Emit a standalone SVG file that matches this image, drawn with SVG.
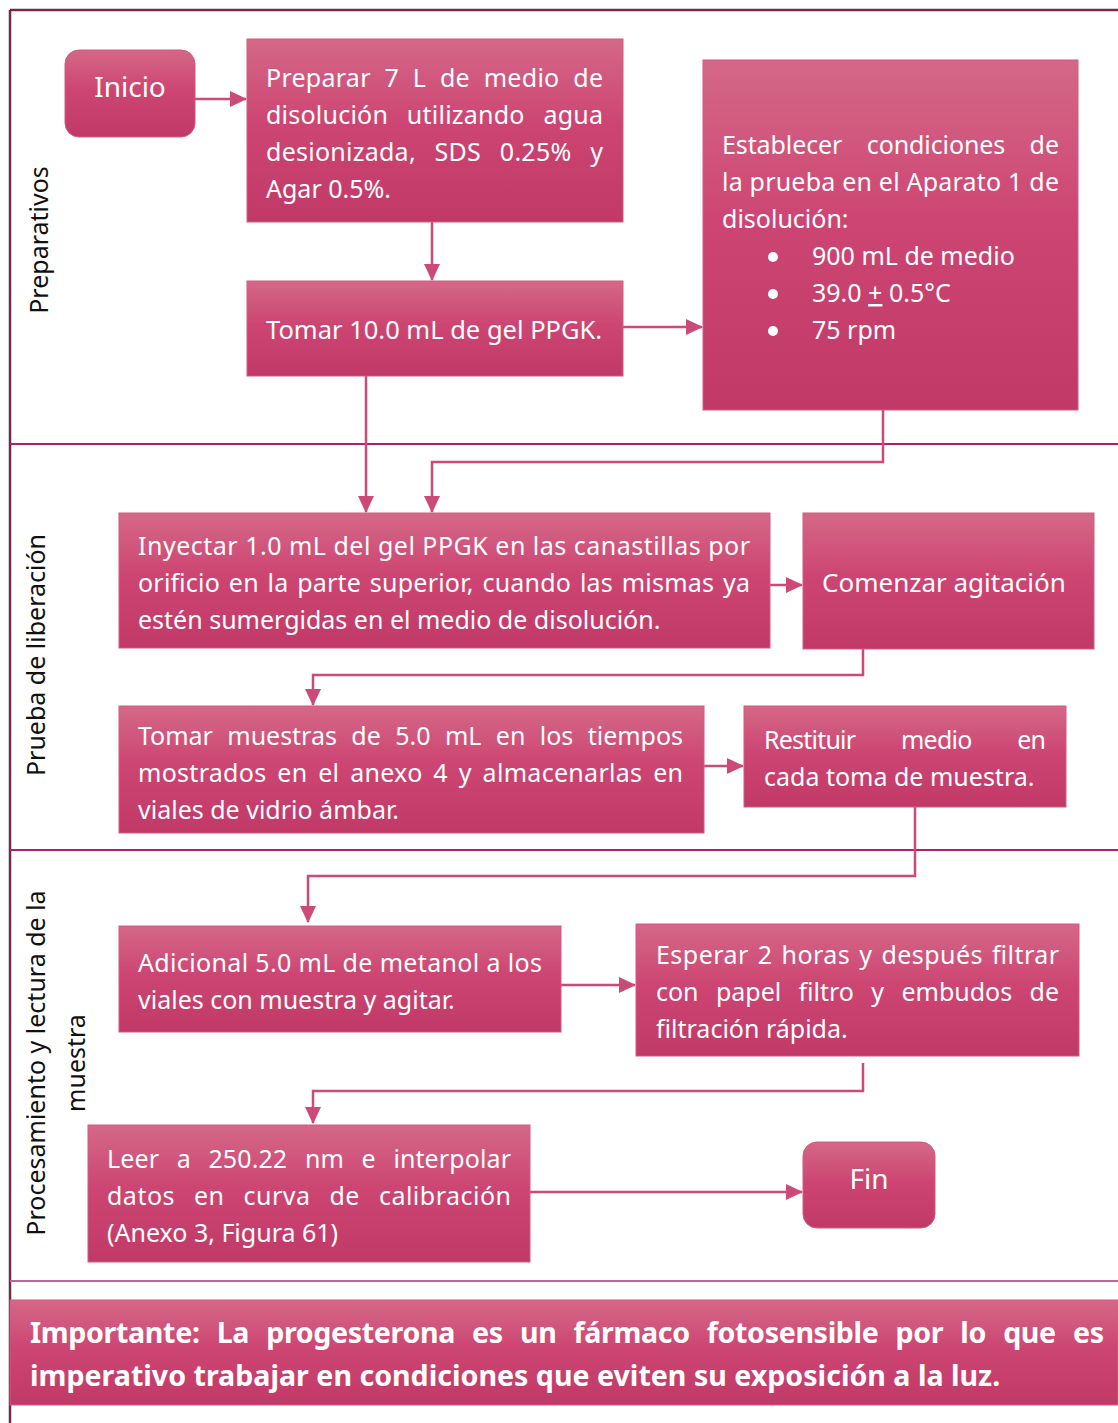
<svg xmlns="http://www.w3.org/2000/svg" width="1118" height="1423" viewBox="0 0 1118 1423">
  <defs>
    <linearGradient id="boxFill" x1="0" y1="0" x2="0" y2="1">
      <stop offset="0" stop-color="#d46888"/>
      <stop offset="0.45" stop-color="#cd4673"/>
      <stop offset="1" stop-color="#c13a67"/>
    </linearGradient>
    <marker id="arrow" markerUnits="userSpaceOnUse" markerWidth="18" markerHeight="16" refX="16" refY="8" orient="auto">
      <path d="M0,0 L17,8 L0,16 Z" fill="#cc4a78"/>
    </marker>
  </defs>
  <style>
    .box { fill: url(#boxFill); stroke: #d25a84; stroke-width: 1; }
    .txt { font-family: "Noto Sans", "Open Sans", sans-serif; font-size: 25px; fill: #ffffff; }
    .term { font-size: 28px; }
    .lbl { font-family: "Noto Sans", "Open Sans", sans-serif; font-size: 25px; fill: #111111; }
    .bold { font-family: "Noto Sans", "Open Sans", sans-serif; font-size: 28.6px; font-weight: bold; fill: #ffffff; }
    .conn { fill: none; stroke: #cc4a78; stroke-width: 2.5; marker-end: url(#arrow); }
    .frame { stroke: #72294a; stroke-width: 2.5; fill: none; }
    .sep { stroke: #a52472; stroke-width: 2; }
  </style>

  <rect width="1118" height="1423" fill="#ffffff"/>

  <!-- outer frame and section dividers -->
  <g id="frame">
    <line class="frame" x1="10" y1="10" x2="1118" y2="10"/>
    <line class="frame" x1="10" y1="10" x2="10" y2="1423"/>
    <line class="sep" x1="10" y1="444" x2="1118" y2="444"/>
    <line class="sep" x1="10" y1="850" x2="1118" y2="850"/>
    <line class="sep" x1="10" y1="1281" x2="1118" y2="1281" style="stroke:#b9689a"/>
  </g>

  <!-- section labels -->
  <g id="section-labels">
    <text class="lbl" text-anchor="middle" transform="translate(48,240) rotate(-90)">Preparativos</text>
    <text class="lbl" text-anchor="middle" transform="translate(45,655) rotate(-90)">Prueba de liberación</text>
    <text class="lbl" text-anchor="middle" transform="translate(45,1063) rotate(-90)">Procesamiento y lectura de la</text>
    <text class="lbl" text-anchor="middle" transform="translate(85,1063) rotate(-90)">muestra</text>
  </g>

  <!-- connectors -->
  <g id="connectors">
    <path class="conn" d="M195,99 H246"/>
    <path class="conn" d="M432,222 V280"/>
    <path class="conn" d="M623,327 H702"/>
    <path class="conn" d="M366,376 V512"/>
    <path class="conn" d="M883,410 V462 H432 V512"/>
    <path class="conn" d="M770,585 H802"/>
    <path class="conn" d="M863,649 V675 H313 V705"/>
    <path class="conn" d="M704,766 H743"/>
    <path class="conn" d="M915,807 V876 H308 V922"/>
    <path class="conn" d="M561,985 H635"/>
    <path class="conn" d="M863,1063 V1091 H313 V1123"/>
    <path class="conn" d="M530,1192 H802"/>
  </g>

  <g id="inicio">
    <rect class="box" x="65" y="50" width="130" height="87" rx="14"/>
    <text class="txt term" x="130" y="97" text-anchor="middle">Inicio</text>
  </g>

  <g id="preparar-medio">
    <rect class="box" x="247" y="39" width="376" height="183"/>
    <text class="txt" x="266" y="87" word-spacing="7" textLength="337" lengthAdjust="spacing">Preparar 7 L de medio de</text>
    <text class="txt" x="266" y="124" word-spacing="12" textLength="337" lengthAdjust="spacing">disolución utilizando agua</text>
    <text class="txt" x="266" y="161" word-spacing="12" textLength="337" lengthAdjust="spacing">desionizada, SDS 0.25% y</text>
    <text class="txt" x="266" y="198">Agar 0.5%.</text>
  </g>

  <g id="tomar-gel">
    <rect class="box" x="247" y="281" width="376" height="95"/>
    <text class="txt" x="266" y="339" style="font-size:25.5px">Tomar 10.0 mL de gel PPGK.</text>
  </g>

  <g id="condiciones">
    <rect class="box" x="703" y="60" width="375" height="350"/>
    <text class="txt" x="722" y="154" word-spacing="18" textLength="337" lengthAdjust="spacing">Establecer condiciones de</text>
    <text class="txt" x="722" y="191" textLength="337" lengthAdjust="spacing">la prueba en el Aparato 1 de</text>
    <text class="txt" x="722" y="228">disolución:</text>
    <circle cx="773" cy="257" r="5" fill="#ffffff"/>
    <circle cx="773" cy="294" r="5" fill="#ffffff"/>
    <circle cx="773" cy="331" r="5" fill="#ffffff"/>
    <text class="txt" x="812" y="265">900 mL de medio</text>
    <text class="txt" x="812" y="302">39.0 <tspan text-decoration="underline">+</tspan> 0.5°C</text>
    <text class="txt" x="812" y="339">75 rpm</text>
  </g>

  <g id="inyectar">
    <rect class="box" x="119" y="513" width="651" height="135"/>
    <text class="txt" x="138" y="555" textLength="612" lengthAdjust="spacing">Inyectar 1.0 mL del gel PPGK en las canastillas por</text>
    <text class="txt" x="138" y="592" word-spacing="2" textLength="612" lengthAdjust="spacing">orificio en la parte superior, cuando las mismas ya</text>
    <text class="txt" x="138" y="629">estén sumergidas en el medio de disolución.</text>
  </g>

  <g id="agitacion">
    <rect class="box" x="803" y="513" width="291" height="136"/>
    <text class="txt" x="822" y="592" style="font-size:26px">Comenzar agitación</text>
  </g>

  <g id="tomar-muestras">
    <rect class="box" x="119" y="706" width="585" height="127"/>
    <text class="txt" x="138" y="745" word-spacing="8" textLength="545" lengthAdjust="spacing">Tomar muestras de 5.0 mL en los tiempos</text>
    <text class="txt" x="138" y="782" word-spacing="4" textLength="545" lengthAdjust="spacing">mostrados en el anexo 4 y almacenarlas en</text>
    <text class="txt" x="138" y="819">viales de vidrio ámbar.</text>
  </g>

  <g id="restituir">
    <rect class="box" x="744" y="706" width="322" height="101"/>
    <text class="txt" x="764" y="749" word-spacing="40" textLength="282" lengthAdjust="spacing">Restituir medio en</text>
    <text class="txt" x="764" y="786">cada toma de muestra.</text>
  </g>

  <g id="metanol">
    <rect class="box" x="119" y="926" width="442" height="106"/>
    <text class="txt" x="138" y="972" textLength="404" lengthAdjust="spacing">Adicional 5.0 mL de metanol a los</text>
    <text class="txt" x="138" y="1009">viales con muestra y agitar.</text>
  </g>

  <g id="filtrar">
    <rect class="box" x="636" y="924" width="443" height="132"/>
    <text class="txt" x="656" y="964" word-spacing="2" textLength="403" lengthAdjust="spacing">Esperar 2 horas y después filtrar</text>
    <text class="txt" x="656" y="1001" word-spacing="11" textLength="403" lengthAdjust="spacing">con papel filtro y embudos de</text>
    <text class="txt" x="656" y="1038">filtración rápida.</text>
  </g>

  <g id="leer">
    <rect class="box" x="88" y="1125" width="442" height="137"/>
    <text class="txt" x="107" y="1168" word-spacing="11" textLength="404" lengthAdjust="spacing">Leer a 250.22 nm e interpolar</text>
    <text class="txt" x="107" y="1205" word-spacing="12" textLength="404" lengthAdjust="spacing">datos en curva de calibración</text>
    <text class="txt" x="107" y="1242">(Anexo 3, Figura 61)</text>
  </g>

  <g id="fin">
    <rect class="box" x="803" y="1142" width="132" height="86" rx="14"/>
    <text class="txt term" x="869" y="1189" text-anchor="middle">Fin</text>
  </g>

  <g id="importante">
    <rect class="box" x="10" y="1300" width="1108" height="105"/>
    <text class="bold" x="30" y="1343" word-spacing="10" textLength="1074" lengthAdjust="spacing">Importante: La progesterona es un fármaco fotosensible por lo que es</text>
    <text class="bold" x="30" y="1386">imperativo trabajar en condiciones que eviten su exposición a la luz.</text>
  </g>
</svg>
